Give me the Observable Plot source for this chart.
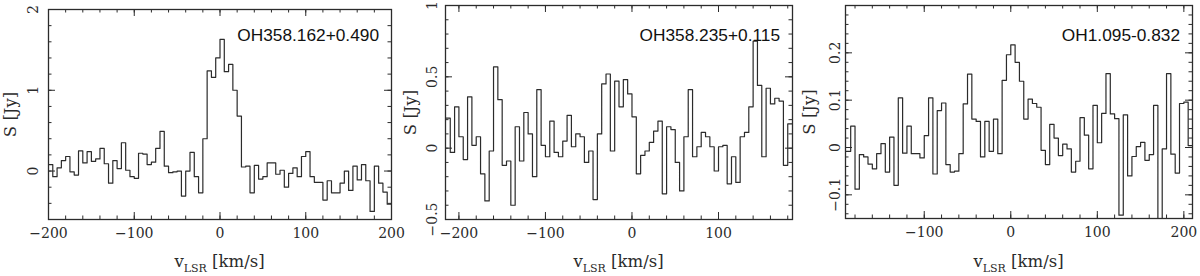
<!DOCTYPE html>
<html><head><meta charset="utf-8">
<script src="https://cdn.jsdelivr.net/npm/d3@7"></script>
<script src="https://cdn.jsdelivr.net/npm/@observablehq/plot@0.6"></script>
<style>
body{margin:0;background:#fff;}
#row{display:flex;width:1200px;height:276px;overflow:hidden;background:#fff;}
#row svg{overflow:visible;display:block;background:transparent;}
</style></head><body><div id="row"></div>
<script>
// ---- data ----
const sources = ["OH358.162+0.490", "OH358.235+0.115", "OH1.095-0.832"];
const binWidth = 5; // km/s
const vStart1 = -200, vStart2 = -215, vStart3 = -190;

const flux1 = [0.08,-0.07,0.04,0.13,0.18,-0.01,-0.05,0.25,0.10,0.24,
  0.12,0.15,0.28,0.09,-0.15,0.13,0.03,0.35,0.01,-0.07,
  -0.09,0.22,0.21,0.08,0.11,0.28,0.49,0.06,-0.02,-0.01,
  0.00,-0.31,0.00,0.23,-0.07,-0.27,0.40,1.24,1.16,1.40,
  1.63,1.23,1.32,1.00,0.68,0.05,0.06,-0.27,0.07,-0.10,
  -0.07,0.10,0.10,-0.04,0.01,-0.20,-0.03,0.04,-0.07,0.18,
  0.24,-0.07,-0.14,-0.14,-0.36,-0.12,-0.27,-0.27,-0.15,0.00,
  -0.24,0.06,-0.11,0.08,-0.12,-0.50,0.06,-0.15,-0.26,-0.41];

const flux2 = [0.21,-0.03,0.29,0.08,-0.08,0.36,0.02,0.08,-0.18,-0.37,
  -0.02,0.57,0.34,-0.12,-0.09,-0.40,0.15,-0.09,0.25,0.10,
  -0.20,0.41,0.02,-0.06,0.19,-0.03,-0.06,0.05,0.23,0.01,
  0.10,0.08,-0.10,-0.02,-0.36,0.10,0.45,0.52,-0.02,0.47,
  0.29,0.48,0.38,0.22,-0.18,-0.05,-0.02,0.04,0.12,0.19,
  -0.32,0.15,0.13,-0.10,-0.30,0.08,0.41,-0.06,0.01,0.11,
  0.08,0.01,-0.16,0.01,0.02,-0.25,-0.06,-0.24,0.08,0.11,
  0.29,0.75,0.44,-0.06,0.42,0.31,0.35,0.33,-0.12,0.17];

const flux3 = [-0.008,0.045,-0.088,-0.015,-0.020,-0.035,-0.045,-0.013,0.008,-0.052,
  0.022,-0.080,0.105,-0.012,0.045,-0.013,-0.013,-0.022,0.025,0.105,
  -0.056,0.078,0.094,-0.036,-0.052,-0.050,-0.013,0.092,0.155,0.060,
  0.055,-0.020,0.055,-0.008,0.060,-0.013,0.142,0.196,0.217,0.180,
  0.140,0.060,0.102,0.093,0.085,-0.006,-0.036,0.049,0.020,-0.017,
  0.007,-0.003,-0.052,-0.029,0.063,0.026,-0.045,0.089,0.010,0.072,
  0.156,0.071,0.061,-0.143,0.069,-0.060,-0.019,0.002,0.011,-0.027,
  -0.015,0.089,-0.200,-0.003,0.156,-0.014,-0.054,0.093,0.096,0.004];

const xDomain1 = [-200, 200], xDomain2 = [-215.5, 185.5], xDomain3 = [-191, 210];
const yDomain1 = [-0.6, 2], yDomain2 = [-0.5, 1], yDomain3 = [-0.15, 0.3];
const xMajor1 = [-200, -100, 0, 100, 200];
const xMajor2 = [-200, -100, 0, 100];
const xMajor3 = [-100, 0, 100, 200];
const yMajor1 = [0, 1, 2];
const yMajor2 = [-0.5, 0, 0.5, 1];
const yMajor3 = [-0.1, 0, 0.1, 0.2];
const xMinorStep = 20;
const yMinorStep1 = 0.2, yMinorStep2 = 0.1, yMinorStep3 = 0.02;

// ---- layout / style ----
const ink = "#2b2b2b";
const serif = "DejaVu Serif";
const sans = "Liberation Sans";
const W = 400, H = 276;
const panels = [
  {name: sources[0], start: vStart1, flux: flux1, xd: xDomain1, yd: yDomain1, xM: xMajor1, yM: yMajor1, yStep: yMinorStep1,
   m: {left: 48, right: 9, top: 9, bottom: 57}, ytdx: -15, ylab: -38},
  {name: sources[1], start: vStart2, flux: flux2, xd: xDomain2, yd: yDomain2, xM: xMajor2, yM: yMajor2, yStep: yMinorStep2,
   m: {left: 45, right: 8, top: 5, bottom: 57}, ytdx: -13, ylab: -35},
  {name: sources[2], start: vStart3, flux: flux3, xd: xDomain3, yd: yDomain3, xM: xMajor3, yM: yMajor3, yStep: yMinorStep3,
   m: {left: 45, right: 8, top: 5, bottom: 58}, ytdx: -10, ylab: -36}
];

const fmt = d => (d < 0 ? "\u2212" : "") + String(Math.abs(d));

function steps(start, values) {
  const pts = values.map((s, i) => ({v: start + i * binWidth, s}));
  pts.push({v: start + values.length * binWidth, s: values[values.length - 1]});
  return pts;
}
function range(lo, hi, step) {
  const out = [];
  const n0 = Math.ceil(lo / step - 1e-9), n1 = Math.floor(hi / step + 1e-9);
  for (let k = n0; k <= n1; k++) out.push(+(k * step).toFixed(6));
  return out;
}

const row = document.getElementById("row");
for (const p of panels) {
  const iw = W - p.m.left - p.m.right, ih = H - p.m.top - p.m.bottom;
  const xMinor = range(p.xd[0], p.xd[1], xMinorStep);
  const yMinor = range(p.yd[0], p.yd[1], p.yStep);
  const majL = 7, minL = 3.5;
  const svg = Plot.plot({
    width: W, height: H,
    marginLeft: p.m.left, marginRight: p.m.right, marginTop: p.m.top, marginBottom: p.m.bottom,
    style: {overflow: "visible", background: "transparent"},
    x: {domain: p.xd, axis: null},
    y: {domain: p.yd, axis: null},
    marks: [
      Plot.line(steps(p.start, p.flux), {x: "v", y: "s", curve: "step-after", stroke: ink, strokeWidth: 1.2, clip: true}),
      // x ticks bottom & top
      Plot.tickX(xMinor, {x: d => d, insetTop: ih - minL, stroke: ink, strokeWidth: 1}),
      Plot.tickX(xMinor, {x: d => d, insetBottom: ih - minL, stroke: ink, strokeWidth: 1}),
      Plot.tickX(p.xM, {x: d => d, insetTop: ih - majL, stroke: ink, strokeWidth: 1}),
      Plot.tickX(p.xM, {x: d => d, insetBottom: ih - majL, stroke: ink, strokeWidth: 1}),
      // y ticks left & right
      Plot.tickY(yMinor, {y: d => d, insetRight: iw - minL, stroke: ink, strokeWidth: 1}),
      Plot.tickY(yMinor, {y: d => d, insetLeft: iw - minL, stroke: ink, strokeWidth: 1}),
      Plot.tickY(p.yM, {y: d => d, insetRight: iw - majL, stroke: ink, strokeWidth: 1}),
      Plot.tickY(p.yM, {y: d => d, insetLeft: iw - majL, stroke: ink, strokeWidth: 1}),
      Plot.frame({stroke: ink, strokeWidth: 1.3}),
      // tick labels
      Plot.text(p.xM, {x: d => d, frameAnchor: "bottom", dy: 9, lineAnchor: "top", text: fmt,
        fill: ink, fontFamily: serif, fontSize: 14}),
      Plot.text(p.yM, {y: d => d, frameAnchor: "left", dx: p.ytdx, rotate: -90, textAnchor: "middle", text: fmt,
        fill: ink, fontFamily: serif, fontSize: 14}),
      Plot.text(["S [Jy]"], {frameAnchor: "left", dx: p.ylab, rotate: -90, textAnchor: "middle", text: d => d,
        fill: ink, fontFamily: serif, fontSize: 16.5}),
      Plot.text([p.name], {frameAnchor: "top-right", dx: -12.5, dy: 28 - p.m.top, textAnchor: "end",
        text: d => d, fill: "#111", fontFamily: sans, fontSize: 17.3})
    ]
  });
  svg.style.background = "transparent";
  // x-axis title with subscript
  const t = d3.select(svg).append("text")
    .attr("x", p.m.left + iw / 2).attr("y", 266.5)
    .attr("text-anchor", "middle").attr("fill", ink)
    .style("font-family", serif).style("font-size", "16.5px");
  t.append("tspan").text("v");
  t.append("tspan").attr("dy", 5).style("font-size", "11px").text("LSR");
  t.append("tspan").attr("dy", -5).text(" [km/s]");
  row.appendChild(svg);
}
</script>
</body></html>
